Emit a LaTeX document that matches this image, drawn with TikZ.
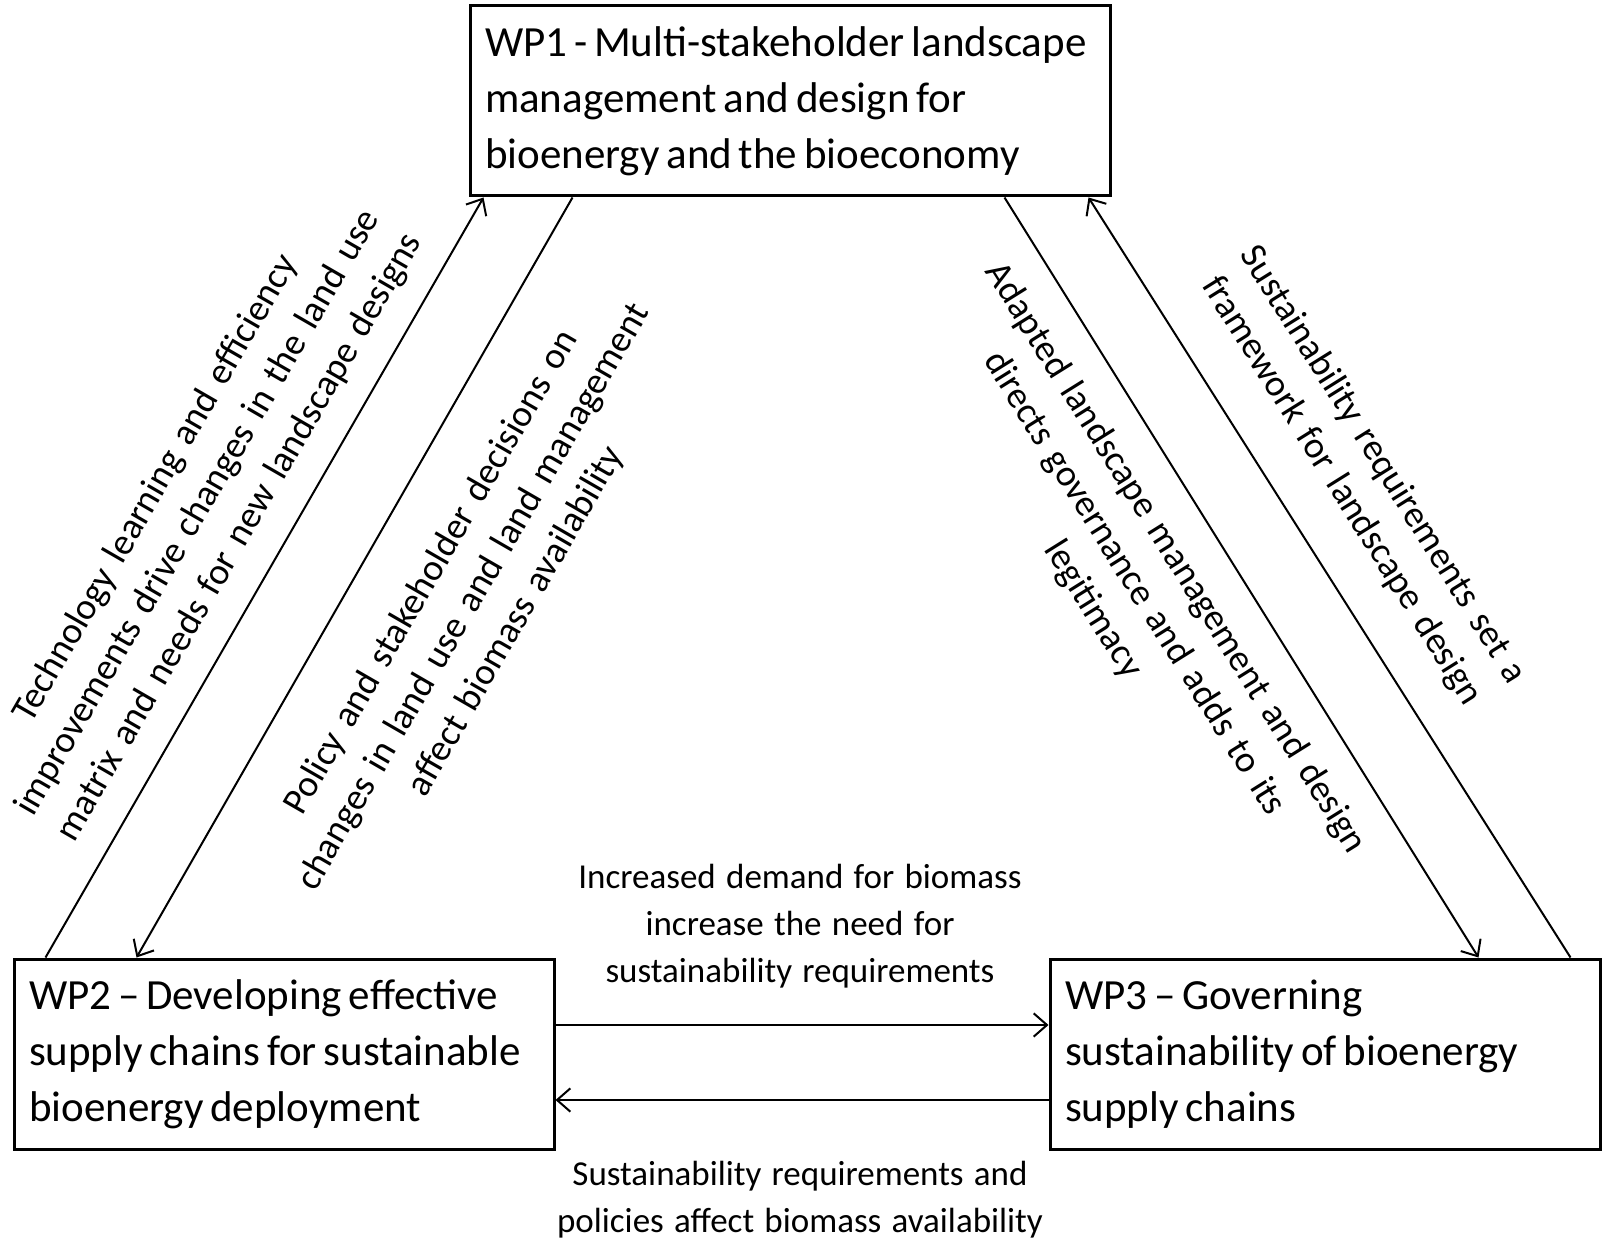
\documentclass[tikz,border=0pt]{standalone}
\usepackage{fontspec}
\setmainfont{Carlito}
\usetikzlibrary{arrows.meta,positioning}
\newcommand{\boxfont}{\fontsize{12.9}{16.8}\selectfont\spaceskip=0.7\fontdimen2\font}
\newcommand{\lblfont}[3]{\fontsize{#1}{#2}\selectfont\spaceskip=#3\fontdimen2\font}

\begin{document}
\begin{tikzpicture}[
  x=0.3pt, y=-0.3pt,
  wp/.style={rectangle, draw, line width=0.9pt, inner xsep=4.5pt, inner ysep=0pt,
    align=flush left, minimum height=57pt, font=\boxfont},
  lbl/.style={align=center, inner sep=0pt, font=\lblfont{10.5}{14.1}{1.3}},
  slant/.style={align=center, inner sep=0pt, font=\lblfont{11.2}{14.6}{1.5}},
  arr/.style={-{Straight Barb[length=4pt,width=7pt]}, line width=0.6pt}
]
\useasboundingbox (0,0) rectangle (1608,1241);

% Work packages
\node[wp, text width=183pt] (wp1) at (790,101) {WP1 - Multi-stakeholder landscape\\management and design for\\bioenergy and the bioeconomy};
\node[wp, text width=153pt] (wp2) at (284,1054) {WP2 – Developing effective\\supply chains for sustainable\\bioenergy deployment};
\node[wp, text width=156pt] (wp3) at (1325,1054) {WP3 – Governing\\sustainability of bioenergy\\supply chains};

% Left side
\draw[arr] ([shift={(33,0)}]wp2.north west) -- ([shift={(15,0)}]wp1.south west);
\draw[arr] ([shift={(104,0)}]wp1.south west) -- ([shift={(124,0)}]wp2.north west);
\node[slant, rotate=60] (techno) at (198,513) {Technology learning and efficiency\\improvements drive changes in the land use\\matrix and needs for new landscape designs};
\node[slant, rotate=60] (landuse) at (474,597) {Policy and stakeholder decisions on\\changes in land use and land management\\affect biomass availability};

% Right side
\draw[arr] ([shift={(-107,0)}]wp1.south east) -- ([shift={(-123,0)}]wp3.north east);
\draw[arr] ([shift={(-31,0)}]wp3.north east) -- ([shift={(-23,0)}]wp1.south east);
\node[slant, rotate=-58] (adapted) at (1134,584) {Adapted landscape management and design\\directs governance and adds to its\\legitimacy};
\node[slant, rotate=-58] (framework) at (1362,478) {Sustainability requirements set a\\framework for landscape design};

% Bottom
\draw[arr] ([shift={(0,-29)}]wp2.east) -- ([shift={(0,-29)}]wp3.west);
\draw[arr] ([shift={(0,46)}]wp3.west) -- ([shift={(0,46)}]wp2.east);
\node[lbl] (demand) at (800,926) {Increased demand for biomass\\increase the need for\\sustainability requirements};
\node[lbl] (policies) at (800,1200) {Sustainability requirements and\\policies affect biomass availability};

\end{tikzpicture}
\end{document}
